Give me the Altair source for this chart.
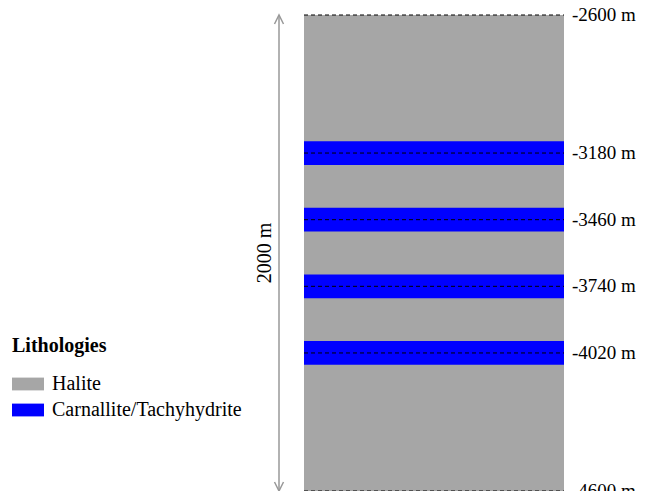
import altair as alt
import pandas as pd

# ---- data ----
litho_names = ["Halite", "Carnallite/Tachyhydrite"]
litho_colors = ["#a6a6a6", "#0000ff"]

layer_litho = ["Halite", "Carnallite/Tachyhydrite", "Carnallite/Tachyhydrite",
               "Carnallite/Tachyhydrite", "Carnallite/Tachyhydrite"]
layer_top = [-2600, -3130, -3410, -3690, -3970]
layer_bottom = [-4600, -3230, -3510, -3790, -4070]

marker_depths = [-2600, -3180, -3460, -3740, -4020, -4600]
marker_labels = [f"{d} m" for d in marker_depths]

thickness_label = "2000 m"
top_depth, bottom_depth = -2600, -4600

FONT = "Liberation Serif"
FS = 20

layers_df = pd.DataFrame({
    "litho": layer_litho, "top": layer_top, "bottom": layer_bottom,
    "x0": [0] * len(layer_litho), "x1": [1] * len(layer_litho),
})
markers_df = pd.DataFrame({
    "depth": marker_depths, "label": marker_labels,
    "x0": [0] * len(marker_depths), "x1": [1] * len(marker_depths),
})
arrow_df = pd.DataFrame({"top": [top_depth], "bottom": [bottom_depth],
                         "mid": [(top_depth + bottom_depth) / 2],
                         "label": [thickness_label]})
heads_df = pd.DataFrame({"depth": [top_depth, bottom_depth], "dir": ["up", "down"]})

yscale = alt.Scale(domain=[bottom_depth, top_depth], nice=False, zero=False)
xscale = alt.Scale(domain=[0, 1], range=[296, 556], nice=False, zero=False)

rects = alt.Chart(layers_df).mark_rect().encode(
    x=alt.X("x0:Q", scale=xscale, axis=None),
    x2="x1:Q",
    y=alt.Y("top:Q", scale=yscale, axis=None),
    y2="bottom:Q",
    color=alt.Color(
        "litho:N",
        scale=alt.Scale(domain=litho_names, range=litho_colors),
        legend=alt.Legend(
            title="Lithologies", orient="none", legendX=4, legendY=321,
            titleFont=FONT, titleFontSize=FS, titleFontWeight="bold",
            titleColor="#000", titlePadding=12,
            labelFont=FONT, labelFontSize=FS, labelColor="#000", labelLimit=400,
            symbolType="M-1,-0.4H1V0.4H-1Z", symbolSize=1024,
            symbolStrokeWidth=0, symbolOpacity=1, labelOffset=8,
            rowPadding=-2, padding=0,
        ),
    ),
)

dashes = alt.Chart(markers_df).mark_rule(color="black", strokeDash=[4, 3], strokeWidth=1).encode(
    x=alt.X("x0:Q", scale=xscale, axis=None),
    x2="x1:Q",
    y=alt.Y("depth:Q", scale=yscale, axis=None),
)

labels = alt.Chart(markers_df).mark_text(
    align="left", baseline="middle", dx=8, font=FONT, fontSize=19, color="black"
).encode(
    x=alt.X("x1:Q", scale=xscale, axis=None),
    y=alt.Y("depth:Q", scale=yscale, axis=None),
    text="label:N",
)

arrow_line = alt.Chart(arrow_df).mark_rule(color="#999999", strokeWidth=1.5).encode(
    x=alt.value(271),
    y=alt.Y("top:Q", scale=yscale, axis=None),
    y2="bottom:Q",
)

head_up = alt.Chart(heads_df[heads_df["dir"] == "up"]).mark_point(
    shape="M-0.5,1L0,0L0.5,1", size=324, filled=False, color="#999999", strokeWidth=1.5, opacity=1
).encode(x=alt.value(271), y=alt.Y("depth:Q", scale=yscale, axis=None))

head_down = alt.Chart(heads_df[heads_df["dir"] == "down"]).mark_point(
    shape="M-0.5,-1L0,0L0.5,-1", size=324, filled=False, color="#999999", strokeWidth=1.5, opacity=1
).encode(x=alt.value(271), y=alt.Y("depth:Q", scale=yscale, axis=None))

arrow_text = alt.Chart(arrow_df).mark_text(
    angle=270, align="center", baseline="middle", font=FONT, fontSize=FS, color="black"
).encode(
    x=alt.value(257),
    y=alt.Y("mid:Q", scale=yscale, axis=None),
    text="label:N",
)

chart = alt.layer(rects, dashes, labels, arrow_line, head_up, head_down, arrow_text).properties(
    width=630, height=476,
    autosize=alt.AutoSizeParams(type="none"),
    padding={"left": 0, "top": 7, "right": 0, "bottom": 0},
).configure_view(stroke=None)

chart.save("out.html", embed_options={"renderer": "svg", "actions": False})
